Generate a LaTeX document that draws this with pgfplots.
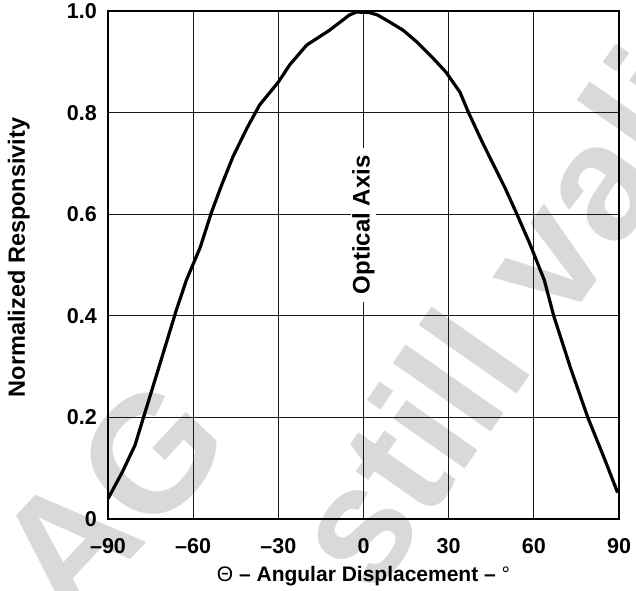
\documentclass[border=0pt]{standalone}
\usepackage{fontspec}
\setmainfont{Liberation Sans}
\usepackage{pgfplots}
\pgfplotsset{compat=1.18}
\pgfplotstableread{
x y
-90 0.040
-85 0.092
-80.5 0.145
-77.5 0.200
-72 0.300
-66 0.410
-62.4 0.470
-57.5 0.535
-53.6 0.603
-50 0.657
-46 0.713
-41 0.770
-36.6 0.815
-30 0.860
-26 0.894
-20 0.933
-12 0.962
-5 0.992
-2.5 0.998
2 0.997
5 0.992
9 0.979
14 0.962
18.6 0.940
24 0.910
29 0.880
34 0.840
37 0.800
42 0.740
46 0.695
50 0.650
53.8 0.603
58.5 0.543
63.7 0.470
67 0.400
73 0.296
79 0.200
85 0.117
89.5 0.052
}\resp
\begin{document}
\begin{tikzpicture}
\useasboundingbox (-108pt,-71pt) rectangle (528pt,519pt);
% watermark
\node[overlay, rotate=47, anchor=base west, text=black!15, inner sep=0pt,
      font=\fontsize{165}{165}\selectfont\bfseries] at (-40pt,-108pt) {AG};
\node[overlay, rotate=55, anchor=base west, text=black!15, inner sep=0pt,
      font=\fontsize{165}{165}\selectfont\bfseries] at (266pt,-80pt) {still valid};
\begin{axis}[
  at={(0,0)}, anchor=south west,
  scale only axis, width=511pt, height=508pt,
  xmin=-90, xmax=90, ymin=0, ymax=1,
  xtick={-90,-60,-30,0,30,60,90},
  xticklabels={–90,–60,–30,0,30,60,90},
  ytick={0,0.2,0.4,0.6,0.8,1.0},
  yticklabels={0,0.2,0.4,0.6,0.8,1.0},
  major tick length=0pt,
  grid=major,
  major grid style={line width=1.2pt, black!90},
  axis line style={line width=2.2pt, black},
  tick label style={font=\fontsize{21.5}{21.5}\selectfont\bfseries, inner sep=0pt},
  xticklabel style={anchor=north, yshift=-19pt},
  yticklabel style={anchor=east, xshift=-11pt},
  every axis x label/.style={at={(axis description cs:0.5,0)}, yshift=-62pt, anchor=base, inner sep=0pt, font=\fontsize{21}{21}\selectfont\bfseries},
  every axis y label/.style={at={(axis description cs:0,0.515)}, xshift=-83pt, rotate=90, anchor=base, inner sep=0pt, font=\fontsize{23.5}{23.5}\selectfont\bfseries},
  xlabel={{\mdseries Θ} – Angular Displacement – {\mdseries °}},
  ylabel={Normalized Responsivity},
  clip=false,
]
\addplot[line width=3.2pt, black, line join=round] table[x=x,y=y] {\resp};
\node[fill=white, rotate=90, inner xsep=8pt, inner ysep=1pt,
      font=\fontsize{24}{24}\selectfont\bfseries] at (axis cs:0,0.579) {Optical Axis};
\end{axis}
\end{tikzpicture}
\end{document}
